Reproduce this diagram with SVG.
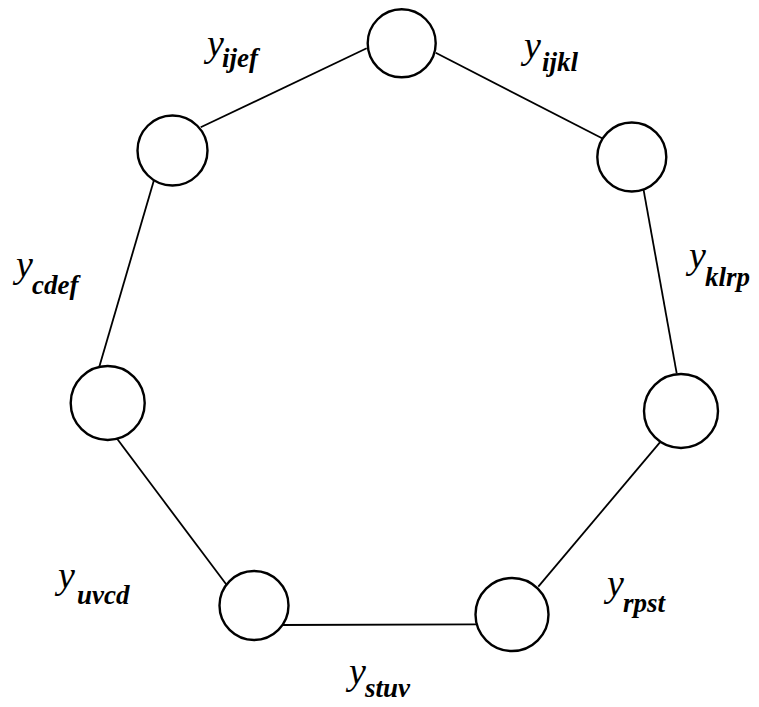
<svg xmlns="http://www.w3.org/2000/svg" width="759" height="707" viewBox="0 0 759 707">
<style>
.node{fill:#fff;stroke:#000;stroke-width:2.4}
.edge{stroke:#000;stroke-width:1.8;fill:none}
.m{font-family:"Liberation Serif",serif;font-style:italic;font-size:38px;fill:#000}
.s{font-size:27px;font-weight:bold}
</style>
<rect width="759" height="707" fill="#fff"/>
<g id="edges">
<line class="edge" x1="200.7" y1="127.3" x2="366.7" y2="48.3"/>
<line class="edge" x1="435.7" y1="52.7" x2="604" y2="139.3"/>
<line class="edge" x1="643.3" y1="188.3" x2="676.7" y2="373.3"/>
<line class="edge" x1="663.3" y1="438.3" x2="538.3" y2="586.7"/>
<line class="edge" x1="476.7" y1="624.3" x2="280" y2="625"/>
<line class="edge" x1="226.7" y1="585" x2="116.7" y2="438.3"/>
<line class="edge" x1="99.3" y1="366.7" x2="154" y2="180"/>
</g>
<g id="n1"><circle class="node" cx="401.7" cy="43.3" r="34"/></g>
<g id="n2"><circle class="node" cx="631.8" cy="157" r="34.5"/></g>
<g id="n3"><circle class="node" cx="681" cy="411" r="37"/></g>
<g id="n4"><circle class="node" cx="512" cy="614.5" r="36.5"/></g>
<g id="n5"><circle class="node" cx="254" cy="605.5" r="34.5"/></g>
<g id="n6"><circle class="node" cx="107.7" cy="403" r="37"/></g>
<g id="n7"><circle class="node" cx="172.5" cy="150.5" r="35"/></g>
<g id="labels">
<text id="l-ijef" class="m" x="207" y="56">y<tspan class="s" x="222" y="67">ijef</tspan></text>
<text id="l-ijkl" class="m" x="524" y="58">y<tspan class="s" x="542" y="71">ijkl</tspan></text>
<text id="l-cdef" class="m" x="16" y="277">y<tspan class="s" x="32" y="294">cdef</tspan></text>
<text id="l-klrp" class="m" x="689" y="268">y<tspan class="s" x="705" y="286">klrp</tspan></text>
<text id="l-uvcd" class="m" x="58" y="588">y<tspan class="s" x="77" y="604">uvcd</tspan></text>
<text id="l-rpst" class="m" x="607" y="596">y<tspan class="s" x="623" y="612">rpst</tspan></text>
<text id="l-stuv" class="m" x="349" y="684">y<tspan class="s" x="365" y="697">stuv</tspan></text>
</g>
</svg>
